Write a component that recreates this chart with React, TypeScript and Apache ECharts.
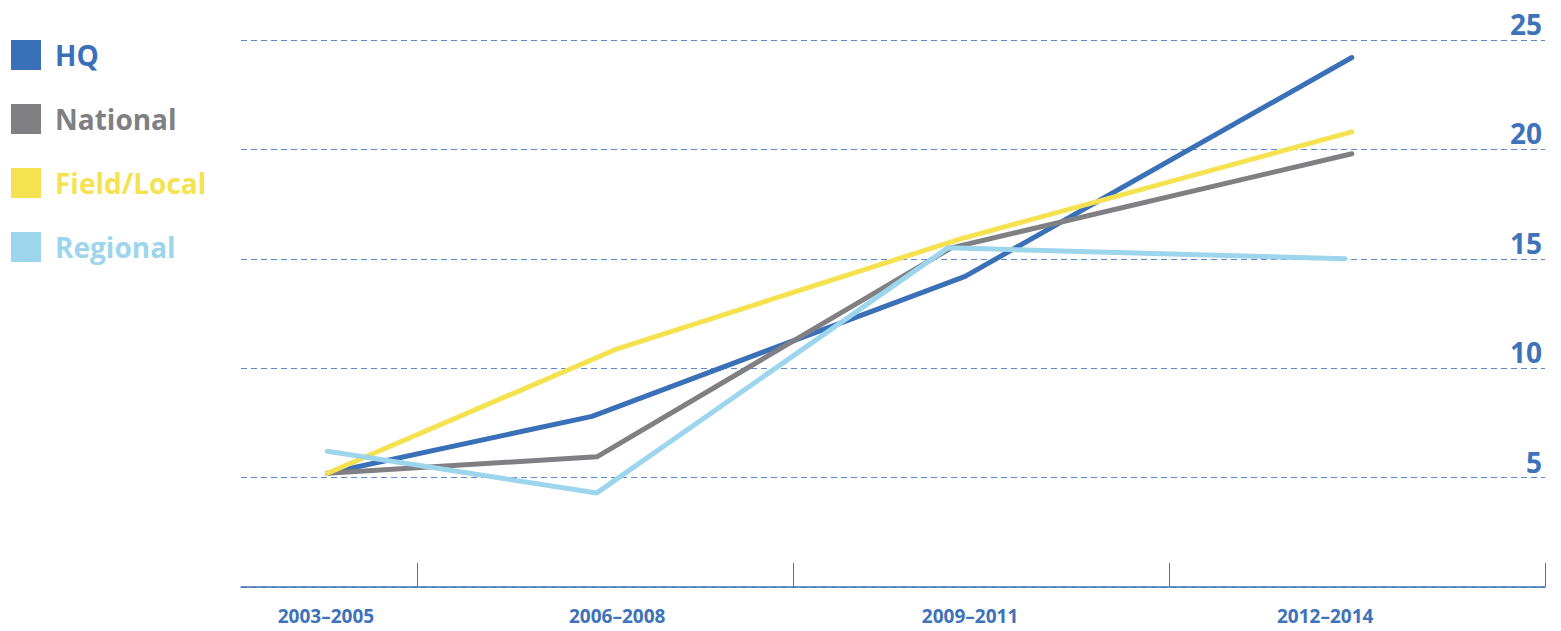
import React, { useEffect, useRef } from "react";
import * as echarts from "echarts";

const seriesNames = ["HQ", "National", "Field/Local", "Regional"];
const seriesColors = ["#3a70b8", "#808084", "#f4e250", "#9cd5ec"];

// x positions in period units (period boundaries at 1, 2, 3, 4)
const hqX = [0.76, 1.464, 2.457, 3.486];
const hqY = [5.2, 7.8, 14.2, 24.2];
const nationalX = [0.76, 1.477, 2.42, 3.486];
const nationalY = [5.2, 5.95, 15.5, 19.8];
const fieldX = [0.76, 1.533, 2.443, 3.486];
const fieldY = [5.2, 10.9, 15.9, 20.8];
const regionalX = [0.76, 1.477, 2.411, 3.468];
const regionalY = [6.2, 4.3, 15.5, 15.0];

const periodLabels = ["2003–2005", "2006–2008", "2009–2011", "2012–2014"];
const periodLabelPos = [0.756, 1.531, 2.47, 3.415];
const periodBoundaries = [1, 2, 3, 4];
const yTicks = [5, 10, 15, 20, 25];

const AXIS_COLOR = "#3e72b9";
const FONT = "'Open Sans', 'Noto Sans', sans-serif";

export default function App() {
  const ref = useRef<HTMLDivElement>(null);
  useEffect(() => {
    if (!ref.current) return;
    const chart = echarts.init(ref.current, undefined, { renderer: "svg" });
    const xs = [hqX, nationalX, fieldX, regionalX];
    const ys = [hqY, nationalY, fieldY, regionalY];
    chart.setOption({
      animation: false,
      grid: { left: 241, right: 16, top: 40, bottom: 44, containLabel: false },
      legend: {
        orient: "vertical",
        left: 11,
        top: 40,
        padding: 0,
        itemWidth: 30,
        itemHeight: 30,
        itemGap: 34,
        icon: "rect",
        data: seriesNames.map((n, i) => ({
          name: n,
          textStyle: { color: seriesColors[i] },
        })),
        textStyle: {
          fontFamily: FONT,
          fontWeight: "bold",
          fontSize: 28,
          lineHeight: 30,
          padding: [0, 0, 0, 9],
        },
        selectedMode: false,
      },
      xAxis: {
        type: "value",
        min: 0.53,
        max: 4,
        axisLine: { show: true, lineStyle: { color: AXIS_COLOR, width: 1.5 } },
        axisTick: {
          show: true,
          inside: true,
          length: 24,
          customValues: periodBoundaries,
          lineStyle: { color: AXIS_COLOR, width: 1 },
        },
        axisLabel: {
          show: true,
          customValues: periodLabelPos,
          formatter: (v: number) => {
            const idx = periodLabelPos.findIndex((p) => Math.abs(p - v) < 1e-6);
            return idx >= 0 ? periodLabels[idx] : "";
          },
          color: AXIS_COLOR,
          fontFamily: FONT,
          fontWeight: "bold",
          fontSize: 19,
          margin: 19,
        },
        splitLine: { show: false },
      },
      yAxis: {
        type: "value",
        position: "right",
        min: 0,
        max: 25,
        interval: 5,
        axisLine: { show: false },
        axisTick: { show: false },
        axisLabel: {
          inside: true,
          verticalAlign: "bottom",
          margin: 3,
          padding: [0, 0, 2, 0],
          color: AXIS_COLOR,
          fontFamily: FONT,
          fontWeight: "bold",
          fontSize: 28,
          formatter: (v: number) => (yTicks.includes(v) ? String(v) : ""),
        },
        splitLine: {
          show: true,
          lineStyle: { color: "#5a8ace", width: 1.2, type: [6, 4] },
        },
      },
      series: seriesNames.map((n, i) => ({
        name: n,
        type: "line",
        data: xs[i].map((x, j) => [x, ys[i][j]]),
        showSymbol: false,
        symbol: "none",
        color: seriesColors[i],
        lineStyle: { width: 5, color: seriesColors[i], cap: "round", join: "round" },
      })),
    });
    return () => chart.dispose();
  }, []);
  return (
    <div
      ref={ref}
      style={{ position: "fixed", left: 0, top: 0, width: 1561, height: 631, background: "#fff" }}
    />
  );
}
